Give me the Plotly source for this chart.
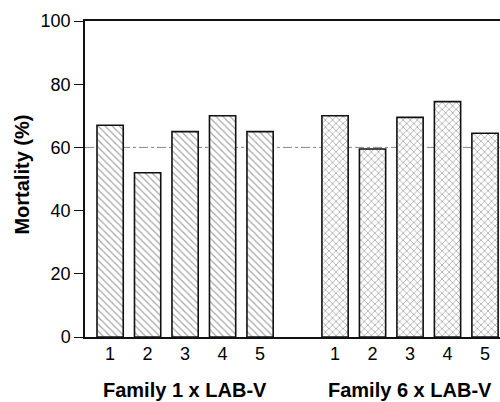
import plotly.graph_objects as go

# Data
groups = ["Family 1 x LAB-V", "Family 6 x LAB-V"]
lines = ["1", "2", "3", "4", "5"]
family1_mortality = [67, 52, 65, 70, 65]
family6_mortality = [70, 59.5, 69.5, 74.5, 64.5]
reference_level = 60
y_ticks = [0, 20, 40, 60, 80, 100]

pos1 = [i + 1 for i in range(len(lines))]
pos6 = [i + 7 for i in range(len(lines))]

FONT = "Liberation Sans, Arial, sans-serif"

fig = go.Figure()
fig.add_trace(go.Bar(
    x=pos1, y=family1_mortality, width=0.7, name=groups[0],
    marker=dict(color="white", line=dict(color="#111", width=1.6),
                pattern=dict(shape="\\", size=5, solidity=0.22, fgcolor="#444", bgcolor="white")),
))
fig.add_trace(go.Bar(
    x=pos6, y=family6_mortality, width=0.7, name=groups[1],
    marker=dict(color="white", line=dict(color="#111", width=1.6),
                pattern=dict(shape="x", size=5, solidity=0.25, fgcolor="#333", bgcolor="white")),
))

fig.add_shape(type="line", xref="paper", yref="y", x0=0, x1=1,
              y0=reference_level, y1=reference_level, layer="below",
              line=dict(color="#888", width=1, dash="dashdot"))

for label, pos in zip(groups, [pos1, pos6]):
    fig.add_annotation(x=sum(pos) / len(pos), xref="x", y=-0.168, yref="paper",
                       text="<b>" + label + "</b>", showarrow=False,
                       font=dict(size=20, color="#000", family=FONT), yanchor="middle")

fig.add_annotation(x=(22 - 85) / 415, xref="paper", y=0.514, yref="paper",
                   text="<b>Mortality (%)</b>", textangle=-90, showarrow=False,
                   font=dict(size=20, color="#000", family=FONT),
                   xanchor="center", yanchor="middle")

fig.update_layout(
    width=500, height=402,
    margin=dict(l=85, r=0, t=21, b=65),
    plot_bgcolor="white", paper_bgcolor="white",
    showlegend=False, bargap=0.3,
    font=dict(family=FONT, color="#000"),
    xaxis=dict(range=[0.33, 11.4], tickvals=pos1 + pos6, ticktext=lines + lines,
               showline=True, linecolor="#111", linewidth=1.5, mirror=True,
               ticks="", showgrid=False, zeroline=False,
               tickfont=dict(size=18), ticklabelstandoff=0),
    yaxis=dict(range=[0, 100], tickvals=y_ticks, showline=True, linecolor="#111",
               linewidth=1.5, ticks="outside", ticklen=9, tickwidth=1.2, tickcolor="#111",
               showgrid=False, zeroline=False, tickfont=dict(size=18)),
)

fig.write_html("out.html", config={"displayModeBar": False},
               post_script="document.body.style.margin='0';")
